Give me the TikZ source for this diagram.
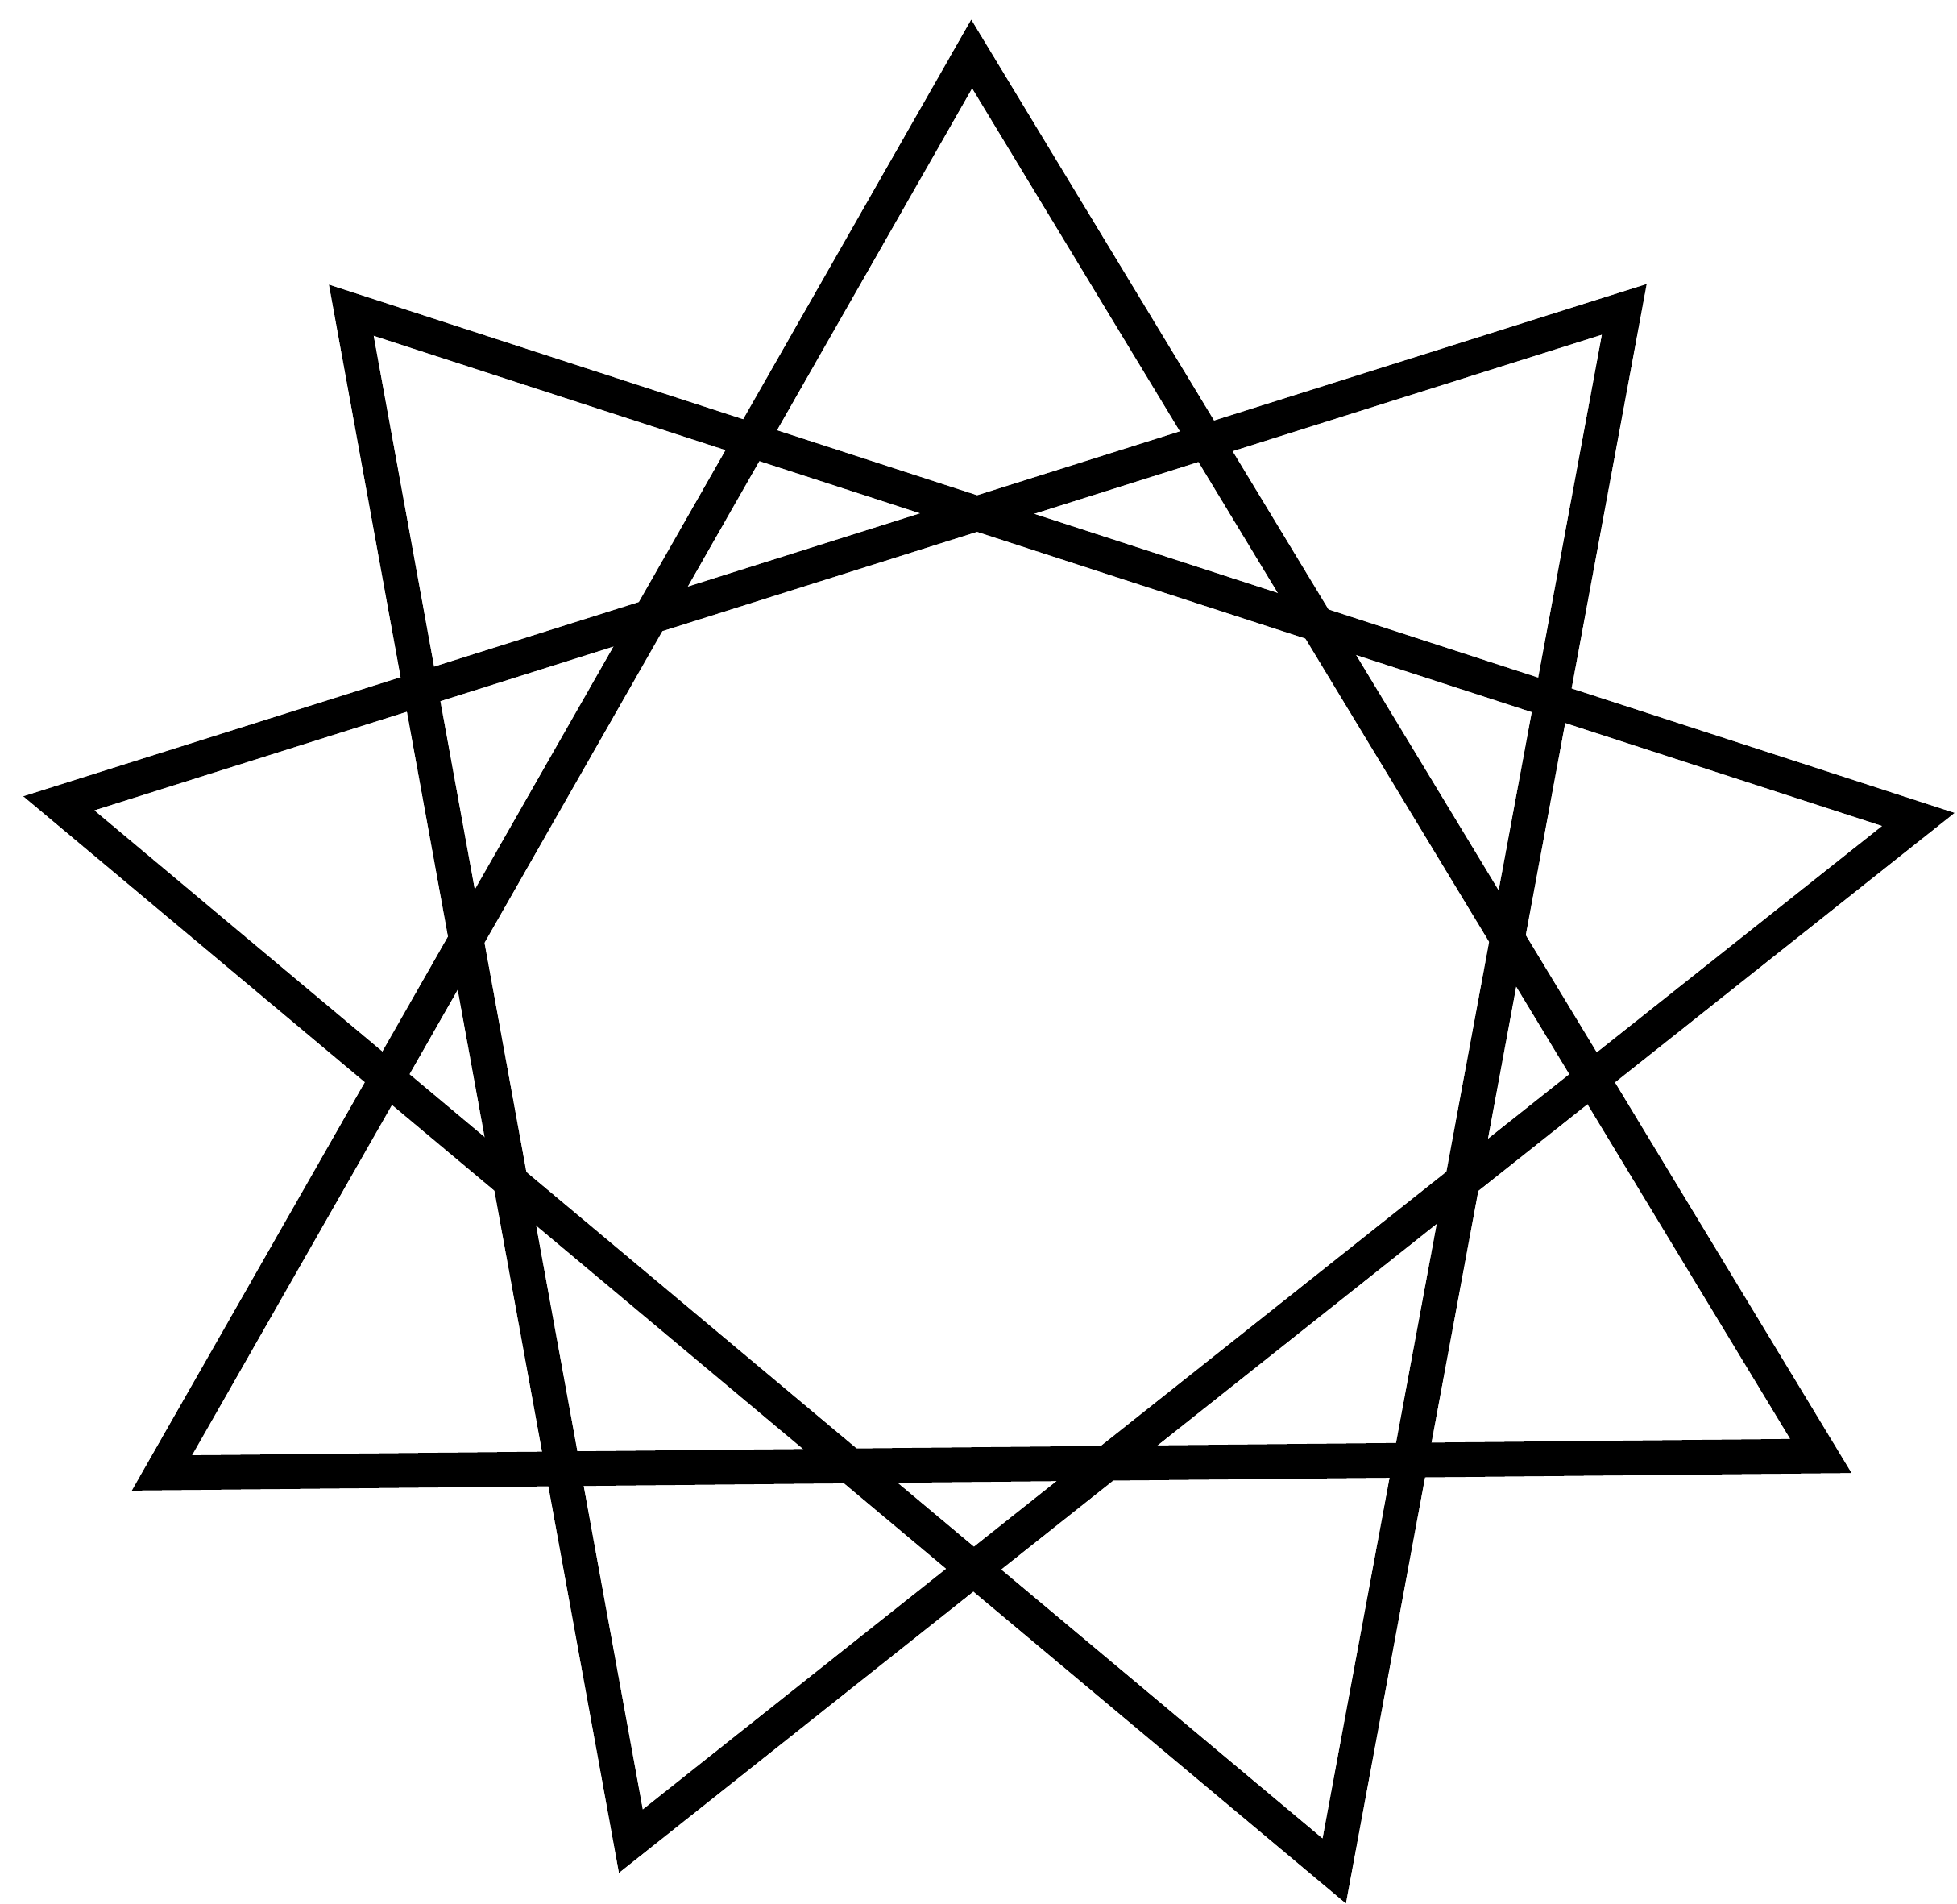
\documentclass[tikz,border=0pt]{standalone}
\usepackage{tikz}

\begin{document}
\begin{tikzpicture}[starline/.style={black, line width=0.43cm, line join=miter}]
			\useasboundingbox (0, 0) rectangle (24.29, 23.62);
			
			% corners of the nine points
			\coordinate (ptop)   at (12.06, 22.95);
			\coordinate (pur)    at (20.16, 19.78);
			\coordinate (pright) at (23.81, 13.45);
			\coordinate (plr)    at (22.60, 5.55);
			\coordinate (pbr)    at (16.56, 0.40);
			\coordinate (pbl)    at (7.83, 0.77);
			\coordinate (pll)    at (2.01, 5.34);
			\coordinate (pleft)  at (0.73, 13.65);
			\coordinate (pul)    at (4.36, 19.77);
			
			\draw[starline] (ptop) -- (plr) -- (pll) -- cycle;
			\draw[starline] (pur) -- (pbr) -- (pleft) -- cycle;
			\draw[starline] (pright) -- (pbl) -- (pul) -- cycle;
		\end{tikzpicture}
\end{document}
